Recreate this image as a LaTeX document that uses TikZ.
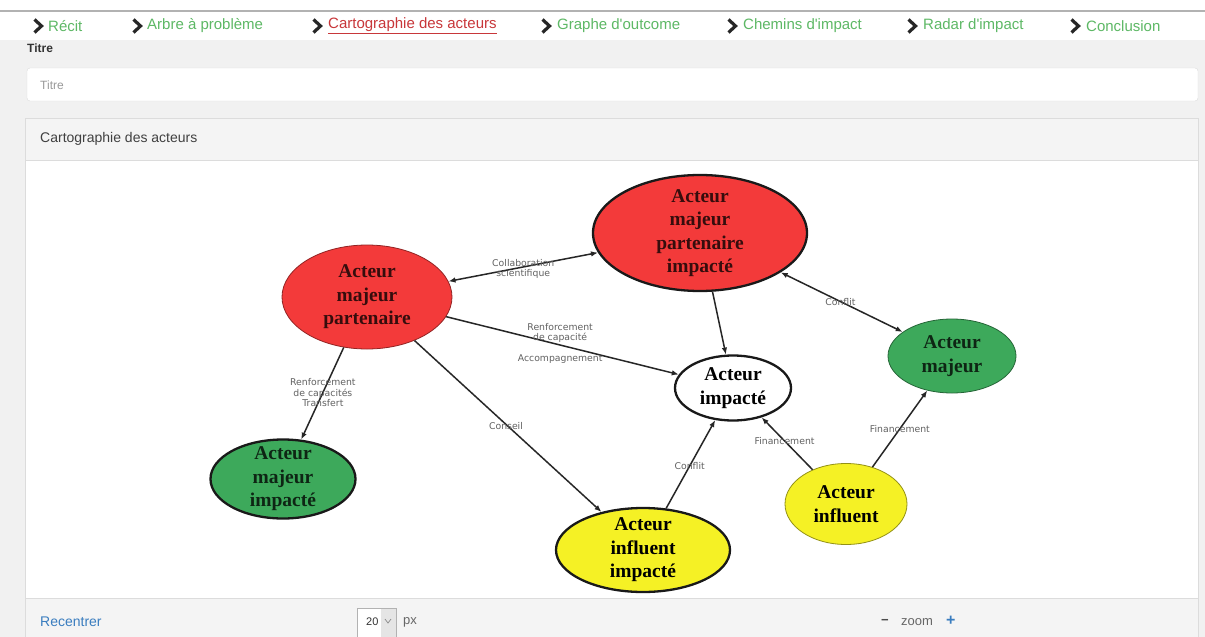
\documentclass[tikz,border=0pt]{standalone}
\usepackage{fontspec}
\setmainfont{Liberation Serif}
\newfontfamily\uifont{Liberation Sans}
\newfontfamily\labelfont{DejaVu Sans}
\usetikzlibrary{arrows.meta,shapes.geometric}

\definecolor{navgreen}{HTML}{5DB865}
\definecolor{navred}{HTML}{C8373A}
\definecolor{pagebg}{HTML}{F1F1F1}
\definecolor{panelhead}{HTML}{F4F4F4}
\definecolor{rule}{HTML}{DCDCDC}
\definecolor{linkblue}{HTML}{3A7DBF}
\definecolor{actred}{HTML}{F33A3A}
\definecolor{actgreen}{HTML}{3DA95B}
\definecolor{actyellow}{HTML}{F5F125}

\tikzset{
  chevron/.pic={\draw[line width=3.2pt, black!85, line join=miter] (-3.5,-6.5) -- (3.5,0) -- (-3.5,6.5);},
  navitem/.style={anchor=west, inner sep=0pt, text=navgreen, font=\uifont\fontsize{15}{17}\selectfont},
  uitext/.style={anchor=west, inner sep=0pt, text=black!80, font=\uifont\fontsize{12}{14}\selectfont},
  actor/.style={ellipse, inner sep=0pt},
  heavy/.style={draw=black!90, line width=2.3pt},
  light/.style={draw=#1!60!black, line width=0.8pt},
  actortext/.style={align=center, inner sep=0pt, text=#1!22!black, font=\bfseries\fontsize{19.5}{23.5}\selectfont},
  edge/.style={draw=black!85, line width=1.5pt, -{Latex[length=7pt,width=5.5pt]}},
  biedge/.style={draw=black!85, line width=1.5pt, {Latex[length=7pt,width=5.5pt]}-{Latex[length=7pt,width=5.5pt]}},
  elabel/.style={inner sep=0pt, align=center, text=black!62, font=\labelfont\fontsize{9.3}{10.8}\selectfont},
}

\begin{document}
\begin{tikzpicture}[x=1pt,y=-1pt]
\path[use as bounding box] (0,0) rectangle (1205,637);

% page layers
\fill[white] (0,0) rectangle (1205,40);
\fill[pagebg] (0,40) rectangle (1205,637);
\draw[black!30, line width=1.5pt] (0,11) -- (1205,11);

% navigation bar
\pic at (38,26) {chevron};
\node[navitem] (nav1) at (48,26) {Récit};
\pic at (137,26) {chevron};
\node[navitem] (nav2) at (147,26) {Arbre à problème};
\pic at (317,26) {chevron};
\node[navitem, text=navred] (nav3) at (328,26) {\underline{Cartographie des acteurs}};
\pic at (546,26) {chevron};
\node[navitem] (nav4) at (557,26) {Graphe d'outcome};
\pic at (732,26) {chevron};
\node[navitem] (nav5) at (743,26) {Chemins d'impact};
\pic at (912,26) {chevron};
\node[navitem] (nav6) at (923,26) {Radar d'impact};
\pic at (1075,26) {chevron};
\node[navitem] (nav7) at (1086,26) {Conclusion};

% title field
\node[uitext, font=\uifont\bfseries\fontsize{12}{14}\selectfont] (titlelbl) at (27,48) {Titre};
\draw[rule, fill=white, rounded corners=3pt] (27,68) rectangle (1198,101);
\node[uitext, text=black!40] (titleph) at (40,85) {Titre};

% panel
\fill[white] (25,160) rectangle (1198,598);
\fill[panelhead] (25,118) rectangle (1198,160);
\fill[panelhead] (25,598) rectangle (1198,640);
\draw[rule] (25,640) -- (25,118) -- (1198,118) -- (1198,640);
\draw[rule] (25,160) -- (1198,160);
\draw[rule] (25,598) -- (1198,598);
\node[uitext, text=black!75, font=\uifont\fontsize{14}{16}\selectfont] (panelttl) at (40,139) {Cartographie des acteurs};

% footer controls
\node[uitext, text=linkblue, font=\uifont\fontsize{14}{16}\selectfont] (recenter) at (40,622) {Recentrer};
\draw[black!30, fill=white] (357,608) rectangle (396,640);
\fill[black!10] (381,609) rectangle (395.5,640);
\node[uitext, font=\uifont\fontsize{11}{13}\selectfont] (pxval) at (366,622) {20};
\draw[black!45, line width=0.7pt] (385,619) -- (388,623) -- (391,619);
\node[uitext, text=black!60, font=\uifont\fontsize{13}{15}\selectfont] (pxunit) at (403,622) {px};
\node[uitext, font=\uifont\bfseries\fontsize{13}{14}\selectfont, text=black!70] (zminus) at (881,622) {−};
\node[uitext, text=black!60, font=\uifont\fontsize{13}{15}\selectfont] (zoomlbl) at (901,622) {zoom};
\node[uitext, font=\uifont\bfseries\fontsize{16}{17}\selectfont, text=linkblue] (zplus) at (946,621) {+};

% actors
\node[actor, light=actred, fill=actred, minimum width=170, minimum height=104] (amp) at (367,297) {};
\node[actortext=actred] (amp-t) at (amp) {Acteur\\majeur\\partenaire};

\node[actor, heavy, fill=actred, minimum width=214, minimum height=116] (ampi) at (700,233) {};
\node[actortext=actred] (ampi-t) at (ampi) {Acteur\\majeur\\partenaire\\impacté};

\node[actor, heavy, fill=white, minimum width=116, minimum height=65] (ai) at (733,388) {};
\node[actortext=black] (ai-t) at (ai) {Acteur\\impacté};

\node[actor, light=actgreen, fill=actgreen, minimum width=128, minimum height=74] (am) at (952,356) {};
\node[actortext=actgreen] (am-t) at (am) {Acteur\\majeur};

\node[actor, heavy, fill=actgreen, minimum width=145, minimum height=79] (ami) at (283,479) {};
\node[actortext=actgreen] (ami-t) at (ami) {Acteur\\majeur\\impacté};

\node[actor, heavy, fill=actyellow, minimum width=174, minimum height=84] (aii) at (643,550) {};
\node[actortext=black] (aii-t) at (aii) {Acteur\\influent\\impacté};

\node[actor, light=actyellow, fill=actyellow, minimum width=122, minimum height=81] (ainf) at (846,504) {};
\node[actortext=black] (ainf-t) at (ainf) {Acteur\\influent};

% relations
\draw[biedge] (amp) -- node[elabel, pos=0.5, yshift=-2] {Collaboration\\scientifique} (ampi);
\draw[edge] (amp) -- node[elabel, pos=0.49, yshift=12] {Renforcement\\de capacité}
                     node[elabel, pos=0.49, yshift=-14] {Accompagnement} (ai);
\draw[edge] (amp) -- node[elabel, pos=0.49] {Renforcement\\de capacités\\Transfert} (ami);
\draw[edge] (amp) -- node[elabel, pos=0.5, xshift=-2] {Conseil} (aii);
\draw[edge] (ampi) -- (ai);
\draw[biedge] (ampi) -- node[elabel, pos=0.49] {Conflit} (am);
\draw[edge] (aii) -- node[elabel, pos=0.48] {Conflit} (ai);
\draw[edge] (ainf) -- node[elabel, pos=0.55] {Financement} (ai);
\draw[edge] (ainf) -- node[elabel, pos=0.5] {Financement} (am);
\end{tikzpicture}
\end{document}
